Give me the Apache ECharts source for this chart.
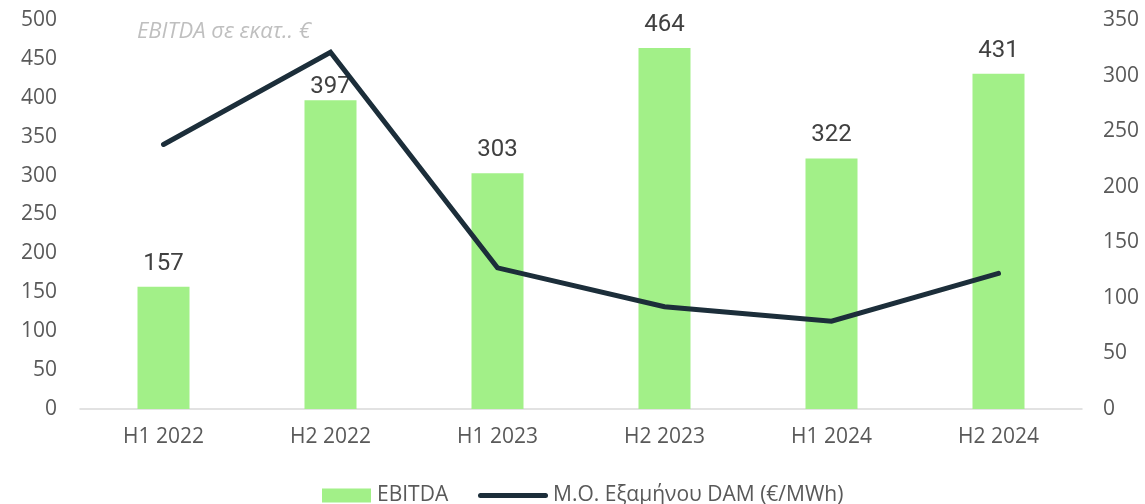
<!DOCTYPE html>
<html>
<head>
<meta charset="utf-8">
<script src="https://cdn.jsdelivr.net/npm/echarts@6/dist/echarts.min.js"></script>
<style>
  html, body { margin: 0; padding: 0; background: #fff; }
  #main { width: 1145px; height: 504px; }
</style>
</head>
<body>
<div id="main"></div>
<script>
var categories = ['H1 2022', 'H2 2022', 'H1 2023', 'H2 2023', 'H1 2024', 'H2 2024'];
var ebitda = [157, 397, 303, 464, 322, 431];
var damPrice = [238, 321, 127, 92, 79, 122];

var axisFont = '"Open Sans", sans-serif';
var lineName = 'Μ.Ο. Εξαμήνου DAM (€/MWh)';

// the 397 label sits close to its bar so it stays under the line
var barData = ebitda.map(function (v, i) {
    return i === 1 ? { value: v, label: { distance: 1 } } : v;
});

var myChart = echarts.init(document.getElementById('main'));
var option = {
    animation: false,
    title: {
        text: 'EBITDA σε εκατ.. €',
        left: 132,
        top: 16,
        textStyle: {
            fontFamily: axisFont,
            fontStyle: 'italic',
            fontWeight: 'normal',
            fontSize: 22,
            color: '#bfbfbf'
        }
    },
    legend: [
        {
            top: 480,
            left: 317,
            itemWidth: 49,
            itemHeight: 14,
            itemGap: 0,
            textStyle: { fontFamily: axisFont, fontSize: 21, color: '#595959', padding: [0, 0, 0, 1] },
            data: [{ name: 'EBITDA', icon: 'rect' }]
        },
        {
            top: 480,
            left: 473,
            itemWidth: 70,
            itemHeight: 14,
            textStyle: { fontFamily: axisFont, fontSize: 21, color: '#595959' },
            data: [{ name: lineName, icon: 'path://M2.5,0 L67.5,0 A2.5,2.5 0 0 1 67.5,5 L2.5,5 A2.5,2.5 0 0 1 2.5,0 Z' }]
        }
    ],
    grid: { left: 80, right: 63, top: 20, bottom: 95 },
    xAxis: {
        type: 'category',
        data: categories,
        axisTick: { show: false },
        axisLine: { lineStyle: { color: '#d9d9d9', width: 1.5 } },
        axisLabel: { fontFamily: axisFont, fontSize: 21, color: '#595959', margin: 18 }
    },
    yAxis: [
        {
            type: 'value',
            min: 0, max: 500, interval: 50,
            splitLine: { show: false },
            axisLabel: { fontFamily: axisFont, fontSize: 21, color: '#595959', margin: 23, align: 'right' }
        },
        {
            type: 'value',
            min: 0, max: 350, interval: 50,
            splitLine: { show: false },
            axisLabel: { fontFamily: axisFont, fontSize: 21, color: '#595959', margin: 21, align: 'left' }
        }
    ],
    series: [
        {
            name: 'EBITDA',
            type: 'bar',
            barWidth: 52,
            data: barData,
            itemStyle: { color: '#a2f088' },
            label: {
                show: true,
                position: 'top',
                distance: 11,
                fontFamily: 'Roboto, sans-serif',
                fontSize: 24,
                color: '#404040'
            }
        },
        {
            name: lineName,
            type: 'line',
            yAxisIndex: 1,
            data: damPrice,
            symbol: 'none',
            lineStyle: { color: '#1c2e3a', width: 5, cap: 'round', join: 'miter' },
            itemStyle: { color: '#1c2e3a' }
        }
    ]
};
myChart.setOption(option);
</script>
</body>
</html>
